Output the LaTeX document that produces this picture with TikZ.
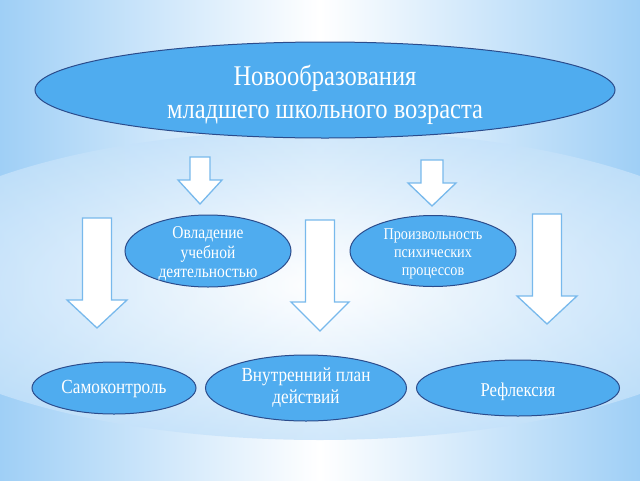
\documentclass[tikz,border=0pt]{standalone}
\usepackage{fontspec}
\setmainfont{Liberation Serif}
\newfontfamily\narrowserif[FakeStretch=0.86]{Liberation Serif}
\usetikzlibrary{shapes.geometric}

\definecolor{bgblue}{HTML}{9FCFF6}
\definecolor{ovalfill}{HTML}{4FACEF}
\definecolor{ovaldraw}{HTML}{2B4C8C}
\definecolor{arrowdraw}{HTML}{78B9EC}

\tikzset{
  oval/.style={ellipse, draw=ovaldraw, line width=1pt, fill=ovalfill, inner sep=0pt},
  ovaltext/.style={text=white, align=center, inner sep=0pt, font=\narrowserif},
  blockarrow/.style={draw=arrowdraw, line width=1.3pt, fill=white, line join=miter},
}
% cx, ytop, yhead, ybottom, half shaft, half head
\newcommand{\downblock}[6]{%
  \draw[blockarrow] (#1-#5,#2) -- (#1+#5,#2) -- (#1+#5,#3) -- (#1+#6,#3)
    -- (#1,#4) -- (#1-#6,#3) -- (#1-#5,#3) -- cycle;}

\begin{document}
\begin{tikzpicture}[x=1pt, y=-1pt]
\useasboundingbox (0,0) rectangle (640,480);
% background
\shade[left color=bgblue, right color=bgblue, middle color=white] (0,0) rectangle (640,480);
\begin{scope}
\clip (0,0) rectangle (640,480);
\shade[inner color=white, outer color=bgblue!60!white, opacity=0.8] (320,285) ellipse (450 and 155);
\end{scope}

% top
\node[oval, minimum width=580pt, minimum height=96pt] (newform) at (325,90) {};
\node[ovaltext, font=\narrowserif\fontsize{28.5}{33}\selectfont]
  (newform-t) at ([yshift=-5pt]newform.center) {Новообразования\\ младшего школьного возраста};

% short arrows
\downblock{200}{157}{180}{204}{10}{22}
\downblock{432}{160}{183}{206}{11}{24}

% middle row
\node[oval, minimum width=166pt, minimum height=72pt] (mastery) at (208,251) {};
\node[ovaltext, font=\narrowserif\fontsize{18}{19.5}\selectfont]
  (mastery-t) at ([yshift=-3pt]mastery.center) {Овладение\\ учебной\\ деятельностью};
\node[oval, minimum width=166pt, minimum height=71pt] (voluntary) at (433,251) {};
\node[ovaltext, font=\narrowserif\fontsize{16.5}{18}\selectfont]
  (voluntary-t) at ([yshift=-3pt]voluntary.center) {Произвольность\\ психических\\ процессов};

% long arrows
\downblock{97}{218}{300}{328}{14.5}{30}
\downblock{320}{220}{302}{331}{14.5}{29}
\downblock{547}{214}{296}{324}{14.5}{30}

% bottom row
\node[oval, minimum width=164pt, minimum height=52pt] (selfctrl) at (114,388) {};
\node[ovaltext, font=\narrowserif\fontsize{20}{22}\selectfont]
  (selfctrl-t) at ([yshift=-1pt]selfctrl.center) {Самоконтроль};
\node[oval, minimum width=201pt, minimum height=66pt] (innerplan) at (306,388) {};
\node[ovaltext, font=\narrowserif\fontsize{20}{22}\selectfont]
  (innerplan-t) at (innerplan.center) {Внутренний план\\ действий};
\node[oval, minimum width=203pt, minimum height=56pt] (reflect) at (518,388) {};
\node[ovaltext, font=\narrowserif\fontsize{19.5}{22}\selectfont]
  (reflect-t) at ([yshift=-4pt]reflect.center) {Рефлексия};

\end{tikzpicture}
\end{document}
